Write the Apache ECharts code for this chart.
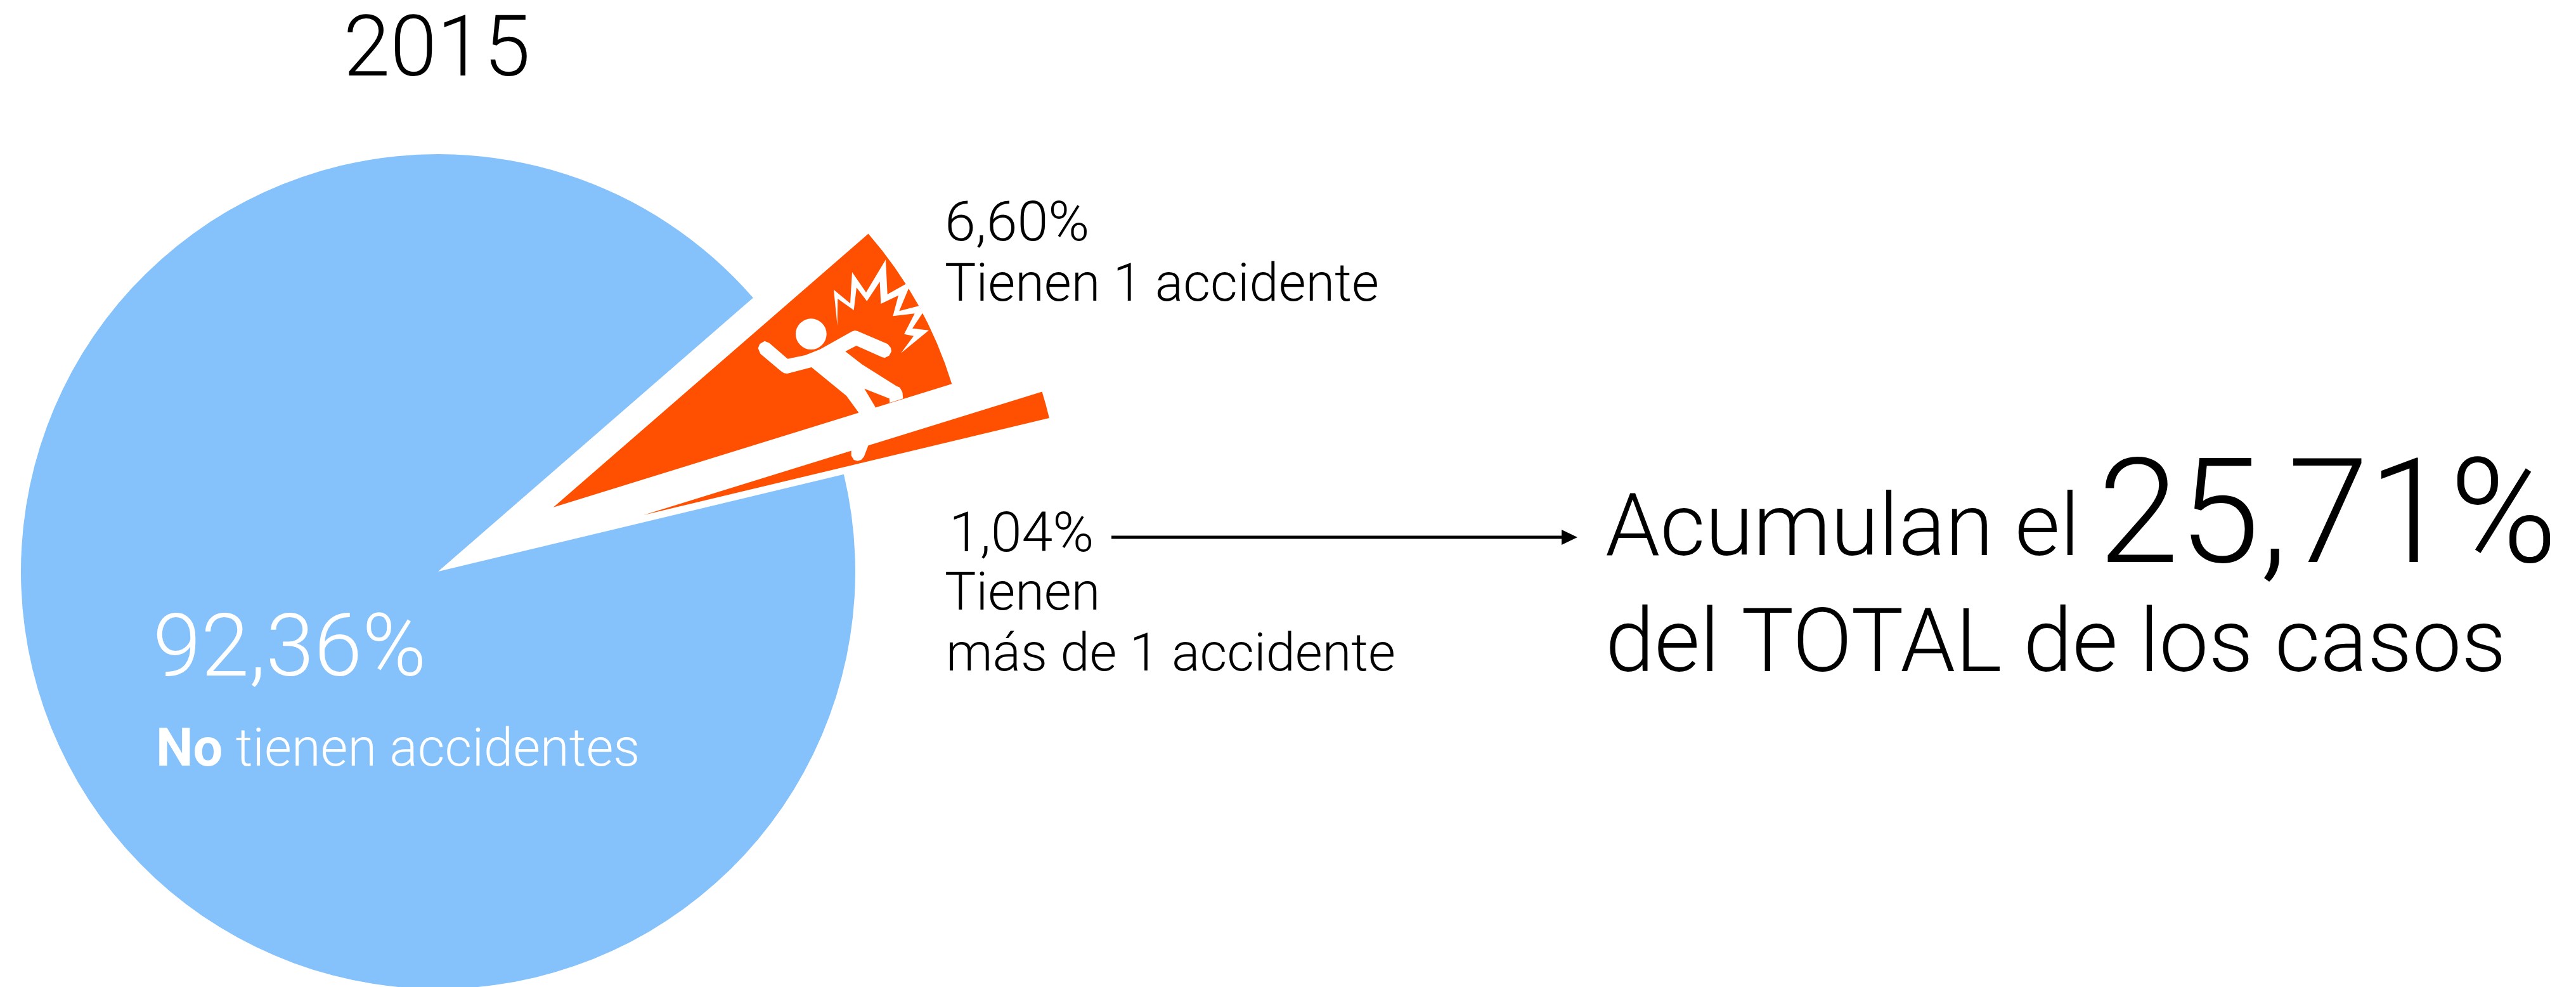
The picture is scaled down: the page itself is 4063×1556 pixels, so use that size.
<!DOCTYPE html>
<html>
<head>
<meta charset="utf-8">
<style>
  html, body { margin: 0; padding: 0; background: #fff; }
  #chart { width: 4063px; height: 1556px; }
</style>
<script src="https://cdn.jsdelivr.net/npm/echarts@6/dist/echarts.min.js"></script>
</head>
<body>
<div id="chart"></div>
<script>
const categories = ['Tienen 1 accidente', 'Tienen más de 1 accidente', 'No tienen accidentes'];
const shares = [6.60, 1.04, 92.36];
const sliceColors = ['#ff4f00', '#ff4f00', '#85c1fb'];
const sliceOffsets = [208, 336, 0];

const FONT = 'Roboto';
const chart = echarts.init(document.getElementById('chart'));

// one pie per slice, because selectedOffset only works per series
const pies = categories.map((name, idx) => ({
  type: 'pie',
  silent: true,
  animation: false,
  center: [691, 901],
  radius: [0, 658],
  startAngle: 40.97,
  selectedMode: 'multiple',
  selectedOffset: sliceOffsets[idx],
  label: { show: false },
  labelLine: { show: false },
  data: categories.map((n, i) => ({
    name: n,
    value: shares[i],
    selected: i === idx,
    itemStyle: { color: i === idx ? sliceColors[i] : 'transparent' }
  }))
}));

const text = (x, y, str, size, color, extra) => ({
  type: 'text',
  x: x,
  y: y,
  z: 10,
  silent: true,
  style: Object.assign({
    text: str,
    fontFamily: FONT,
    fontWeight: 300,
    fontSize: size,
    fill: color || '#000',
    verticalAlign: 'middle'
  }, extra)
});

// icon points are in 3x crop units, the group scales them back
const person = [[137,447],[145,427],[168,413],[190,422],[277,497],[360,480],[430,452],[580,368],[595,363],[608,366],[750,427],[765,445],[768,462],[757,482],[737,492],[725,490],[602,435],[550,462],[628,523],[790,625],[808,633],[820,655],[823,685],[760,705],[758,685],[640,638],[692,725],[658,908],[638,960],[625,975],[608,980],[590,975],[578,955],[578,930],[612,750],[555,672],[390,537],[275,567],[260,565],[245,555],[148,473]];
const burst = [[512,340],[495,170],[573,235],[582,87],[648,183],[741,28],[749,192],[836,143],[850,163],[805,271],[898,247],[916,280],[867,353],[945,362],[813,470],[873,389],[828,380],[878,283],[775,295],[801,197],[718,237],[713,132],[652,224],[603,160],[590,267],[514,213]];

const option = {
  backgroundColor: '#fff',
  title: {
    text: '2015',
    left: 684,
    top: 81,
    textAlign: 'center',
    textVerticalAlign: 'middle',
    textStyle: { fontFamily: FONT, fontWeight: 300, fontSize: 133, color: '#000' }
  },
  series: pies,
  graphic: [
    {
      type: 'group',
      x: 1150,
      y: 400,
      scaleX: 1 / 3,
      scaleY: 1 / 3,
      silent: true,
      children: [
        { type: 'circle', z: 10, shape: { cx: 388, cy: 380, r: 73 }, style: { fill: '#fff' } },
        { type: 'polygon', z: 10, shape: { points: person }, style: { fill: '#fff' } },
        { type: 'polygon', z: 10, shape: { points: burst }, style: { fill: '#fff' } }
      ]
    },
    text(1490, 357, '6,60%', 88),
    text(1490, 453, 'Tienen 1 accidente', 83),
    text(1497, 847, '1,04%', 88),
    text(1490, 940, 'Tienen', 83),
    text(1492, 1036, 'más de 1 accidente', 83),
    text(241, 1031, '92,36%', 137, '#fff'),
    text(246, 1186, '{b|No} tienen accidentes', 83, '#fff', {
      rich: { b: { fontFamily: FONT, fontWeight: 700, fontSize: 83, fill: '#fff' } }
    }),
    text(2532, 840, 'Acumulan el', 138),
    text(3309, 828, '25,71%', 230),
    text(2532, 1023, 'del TOTAL de los casos', 139),
    { type: 'line', silent: true, shape: { x1: 1753, y1: 847, x2: 2475, y2: 847 }, style: { stroke: '#000', lineWidth: 5 } },
    { type: 'polygon', silent: true, shape: { points: [[2463, 835], [2488, 847], [2463, 859]] }, style: { fill: '#000' } }
  ]
};

chart.setOption(option);
window.addEventListener('resize', () => chart.resize());
</script>
</body>
</html>
